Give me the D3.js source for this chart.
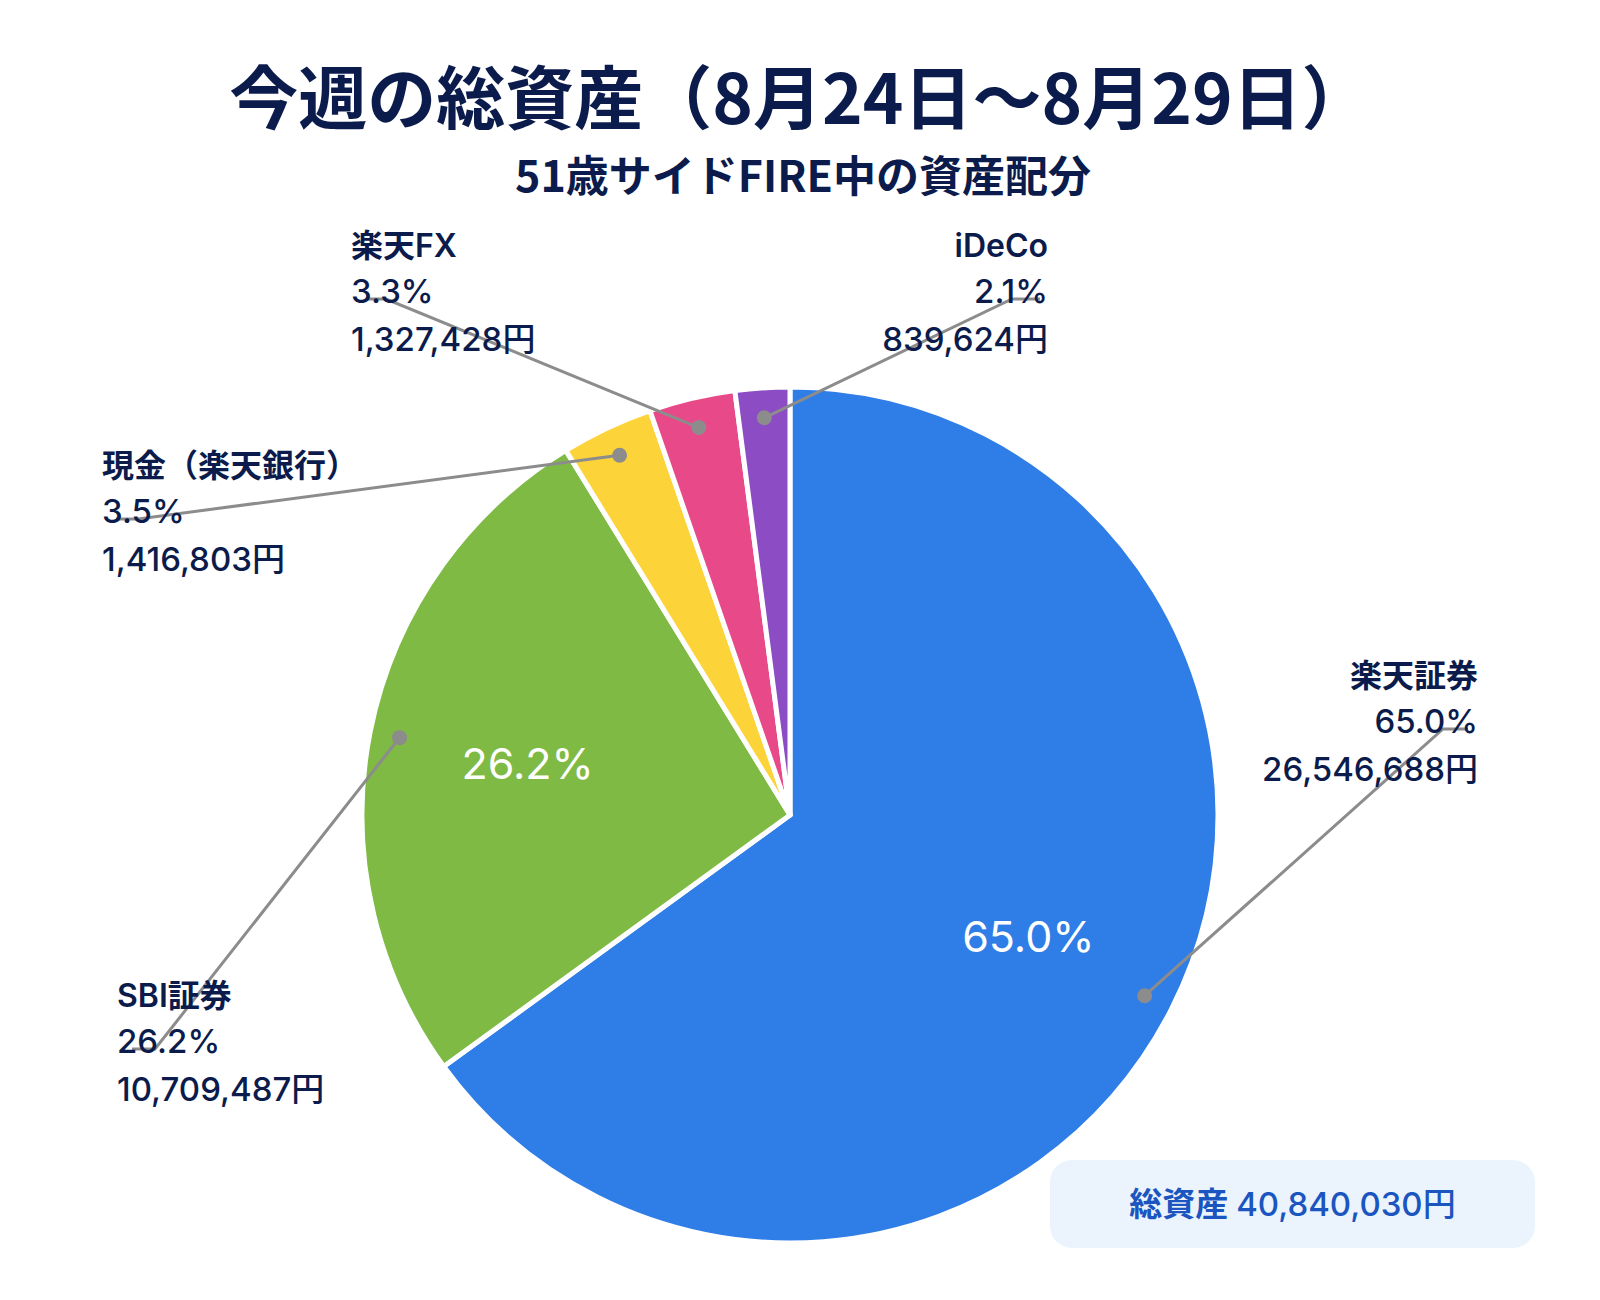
<!DOCTYPE html>
<html>
<head>
<meta charset="utf-8">
<script src="https://cdn.jsdelivr.net/npm/d3@7"></script>
<style>
  html, body { margin: 0; padding: 0; background: #ffffff; }
  svg { display: block; }
</style>
</head>
<body>
<svg id="chart" width="1600" height="1300"></svg>
<script>
// ---- data ----
const categories = ["楽天証券", "SBI証券", "現金（楽天銀行）", "楽天FX", "iDeCo"];
const amounts = [26546688, 10709487, 1416803, 1327428, 839624];
const colors = ["#2f7de6", "#7fba45", "#fdd33a", "#e84a89", "#8b4cc4"];
const titleText = "今週の総資産（8月24日〜8月29日）";
const subtitleText = "51歳サイドFIRE中の資産配分";
const totalLabel = "総資産";

// ---- layout (positions only) ----
const W = 1600, H = 1300;
const cx = 790, cy = 815, R = 428;
// label anchor: side, text x, baseline of the percentage line, horizontal leader length
const labelLayout = [
  { side: "right", x: 1478, y: 733, tail: 25, pad: 10 },
  { side: "left",  x: 117,  y: 1053, tail: 23, pad: 15 },
  { side: "left",  x: 102,  y: 523, tail: 22, pad: 14 },
  { side: "left",  x: 351,  y: 303, tail: 19, pad: 16 },
  { side: "right", x: 1048, y: 303, tail: 28, pad: 8 }
];
const showInner = [true, true, false, false, false];

const navy = "#0b1b4b";
const latin = "Inter, 'Noto Sans CJK JP', sans-serif";
const cjk = "'Noto Sans CJK JP', sans-serif";

const svg = d3.select("#chart");
const total = d3.sum(amounts);
const data = categories.map((c, i) => ({ name: c, value: amounts[i], color: colors[i], i }));
const fmtPct = v => (v / total * 100).toFixed(1) + "%";
const fmtYen = d3.format(",");

// title
svg.append("text")
  .attr("x", W / 2).attr("y", 124)
  .attr("text-anchor", "middle")
  .attr("font-family", cjk).attr("font-weight", 700)
  .attr("font-size", 69).attr("fill", navy)
  .text(titleText);
svg.append("text")
  .attr("x", W / 2 + 3).attr("y", 192)
  .attr("text-anchor", "middle")
  .attr("font-family", cjk).attr("font-weight", 700)
  .attr("font-size", 43).attr("fill", navy)
  .text(subtitleText);

// pie
const pie = d3.pie().sort(null).value(d => d.value).startAngle(0).endAngle(2 * Math.PI);
const arcs = pie(data);
const arc = d3.arc().innerRadius(0).outerRadius(R);
const dotArc = d3.arc().innerRadius(R * 0.93).outerRadius(R * 0.93);
const innerArc = d3.arc().innerRadius(R * 0.625).outerRadius(R * 0.625);

const g = svg.append("g").attr("transform", `translate(${cx},${cy})`);
g.selectAll("path.slice").data(arcs).join("path")
  .attr("class", "slice")
  .attr("d", arc)
  .attr("fill", d => d.data.color)
  .attr("stroke", "#ffffff")
  .attr("stroke-width", 5)
  .attr("stroke-linejoin", "round");

// inner percentage labels
g.selectAll("text.inner").data(arcs.filter(d => showInner[d.data.i])).join("text")
  .attr("class", "inner")
  .attr("transform", d => `translate(${innerArc.centroid(d)})`)
  .attr("text-anchor", "middle")
  .attr("dominant-baseline", "central")
  .attr("font-family", latin).attr("font-size", 43).attr("font-weight", 400)
  .attr("fill", "#ffffff")
  .text(d => fmtPct(d.data.value));

// leader lines
const lineG = svg.append("g");
arcs.forEach(d => {
  const L = labelLayout[d.data.i];
  const [dx, dy] = dotArc.centroid(d);
  const p0 = [cx + dx, cy + dy];
  const ly = L.y - 4;
  let end, elbow;
  if (L.side === "right") {
    end = [L.x - L.pad, ly];
    elbow = [end[0] - L.tail, ly];
  } else {
    end = [L.x + L.pad, ly];
    elbow = [end[0] + L.tail, ly];
  }
  lineG.append("path")
    .attr("d", d3.line()([p0, elbow, end]))
    .attr("fill", "none")
    .attr("stroke", "#8c8c8c")
    .attr("stroke-width", 3);
  lineG.append("circle")
    .attr("cx", p0[0]).attr("cy", p0[1]).attr("r", 7.5)
    .attr("fill", "#8c8c8c");
});

// outside labels
const labG = svg.append("g");
arcs.forEach(d => {
  const L = labelLayout[d.data.i];
  const anchor = L.side === "right" ? "end" : "start";
  const t = labG.append("text")
    .attr("text-anchor", anchor)
    .attr("font-family", latin)
    .attr("fill", navy);
  t.append("tspan").attr("x", L.x).attr("y", L.y - 46)
    .attr("font-size", 32).attr("font-weight", 600).text(d.data.name);
  t.append("tspan").attr("x", L.x).attr("y", L.y)
    .attr("font-size", 33).attr("font-weight", 500).text(fmtPct(d.data.value));
  t.append("tspan").attr("x", L.x).attr("y", L.y + 48)
    .attr("font-size", 33).attr("font-weight", 500).text(fmtYen(d.data.value) + "円");
});

// total box
const bx = 1050, by = 1160, bw = 485, bh = 88;
svg.append("rect")
  .attr("x", bx).attr("y", by).attr("width", bw).attr("height", bh)
  .attr("rx", 22).attr("ry", 22)
  .attr("fill", "#ebf3fd");
const tt = svg.append("text")
  .attr("x", bx + bw / 2).attr("y", by + 56)
  .attr("text-anchor", "middle")
  .attr("font-family", latin).attr("font-size", 33)
  .attr("fill", "#1a55c0");
tt.append("tspan").attr("font-weight", 700).text(totalLabel + " ");
tt.append("tspan").attr("font-weight", 500).text(fmtYen(total) + "円");
</script>
</body>
</html>
